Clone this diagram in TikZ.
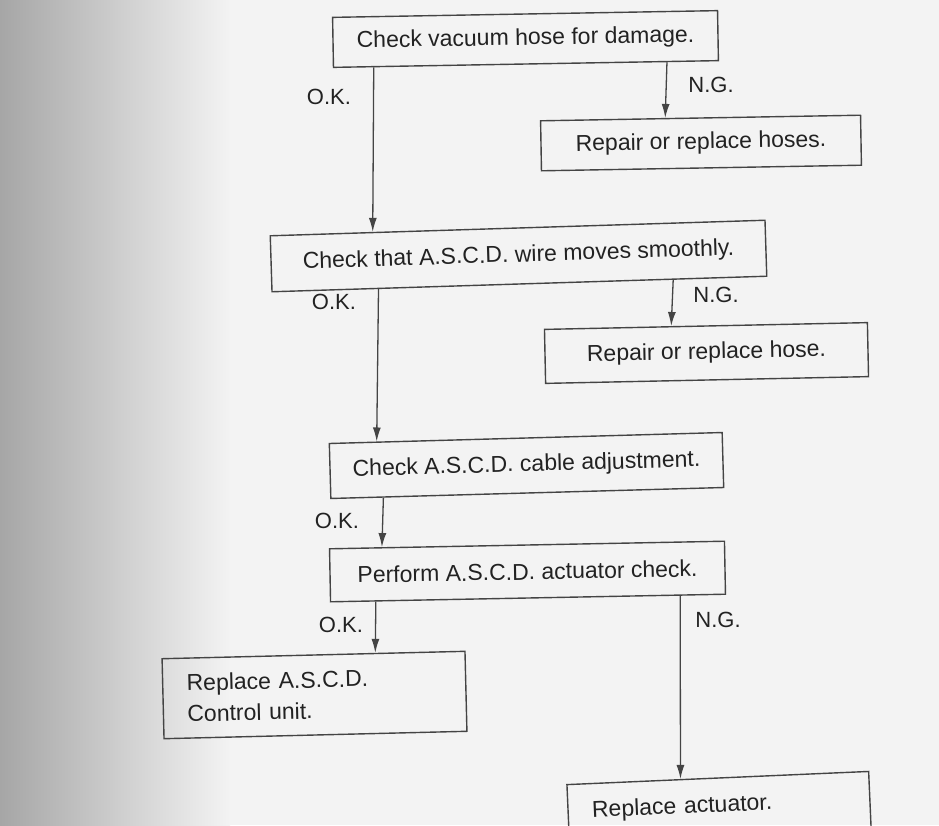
\documentclass[tikz,border=0pt]{standalone}
\usepackage{fontspec}
\setmainfont{Liberation Sans}
\usetikzlibrary{arrows.meta,calc}
\definecolor{ink}{HTML}{222222}
\definecolor{frame}{HTML}{444444}
\definecolor{paper}{HTML}{F3F3F3}
\definecolor{shadow}{HTML}{A6A6A6}
\begin{document}
\begin{tikzpicture}[x=1pt,y=-1pt,
  box/.style={draw=frame, line width=1.4pt, text=ink, font=\fontsize{23}{28}\selectfont, inner sep=0pt, align=center},
  lbl/.style={text=ink, font=\fontsize{22}{26}\selectfont, inner sep=0pt},
  arr/.style={draw=frame, line width=1.3pt, -{Latex[length=14pt,width=8pt]}}]
\useasboundingbox (0,0) rectangle (939,825);
\fill[paper] (0,0) rectangle (939,825);
\shade[left color=shadow, right color=paper] (0,0) rectangle (230,825);

\node[box, minimum width=385pt, minimum height=50pt, rotate=1.0] (b1) at (525.5,39) {Check vacuum hose for damage.};
\node[box, minimum width=320pt, minimum height=50pt, rotate=1.0] (b1n) at (701,143) {Repair or replace hoses.};
\node[box, minimum width=495pt, minimum height=56pt, rotate=1.8] (b2) at (518.5,256) {Check that A.S.C.D. wire moves smoothly.};
\node[box, minimum width=323pt, minimum height=54pt, rotate=1.2] (b2n) at (706.5,353) {Repair or replace hose.};
\node[box, minimum width=393pt, minimum height=55pt, rotate=1.6] (b3) at (526.5,465.5) {Check A.S.C.D. cable adjustment.};
\node[box, minimum width=395pt, minimum height=53pt, rotate=1.1] (b4) at (527.5,571.5) {Perform A.S.C.D. actuator check.};
\node[box, minimum width=303pt, minimum height=80pt, rotate=1.4, text width=255pt, align=left, inner xsep=24pt, font=\fontsize{23}{31}\selectfont] (b5) at (314.5,695) {Replace A.S.C.D.\\Control unit.};
\node[box, minimum width=302pt, minimum height=56pt, rotate=2.5, text width=254pt, align=left, inner xsep=24pt] (b6) at (719,806) {Replace actuator.};

\draw[arr] ($(b1.south west)!0.106!(b1.south east)$) -- ($(b2.north west)!0.208!(b2.north east)$);
\draw[arr] ($(b1.south west)!0.865!(b1.south east)$) -- ($(b1n.north west)!0.39!(b1n.north east)$);
\draw[arr] ($(b2.south west)!0.216!(b2.south east)$) -- ($(b3.north west)!0.122!(b3.north east)$);
\draw[arr] ($(b2.south west)!0.81!(b2.south east)$) -- ($(b2n.north west)!0.393!(b2n.north east)$);
\draw[arr] ($(b3.south west)!0.135!(b3.south east)$) -- ($(b4.north west)!0.134!(b4.north east)$);
\draw[arr] ($(b4.south west)!0.116!(b4.south east)$) -- ($(b5.north west)!0.703!(b5.north east)$);
\draw[arr] ($(b4.south west)!0.884!(b4.south east)$) -- ($(b6.north west)!0.377!(b6.north east)$);

\node[lbl] (ok1) at (329,97) {O.K.};
\node[lbl] (ng1) at (711,85) {N.G.};
\node[lbl] (ok2) at (334,302) {O.K.};
\node[lbl] (ng2) at (716,295) {N.G.};
\node[lbl] (ok3) at (337,521) {O.K.};
\node[lbl] (ok4) at (341,625) {O.K.};
\node[lbl] (ng4) at (718,620) {N.G.};
\end{tikzpicture}
\end{document}
